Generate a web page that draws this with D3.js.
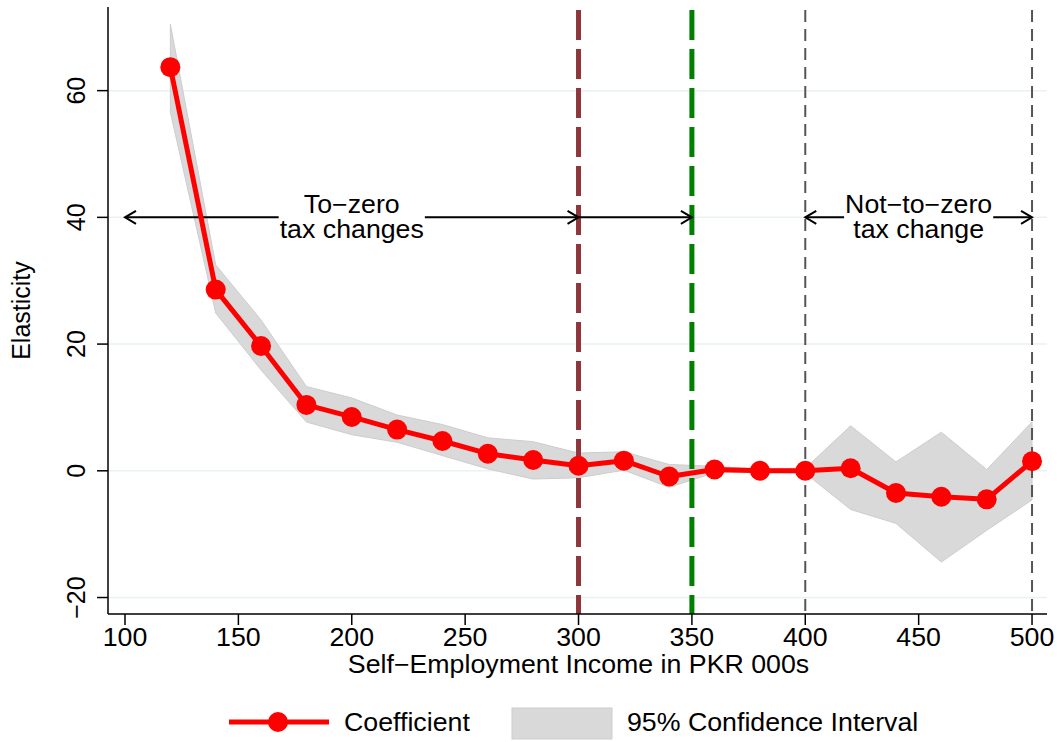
<!DOCTYPE html>
<html>
<head>
<meta charset="utf-8">
<script src="https://cdn.jsdelivr.net/npm/d3@7"></script>
<style>
  html, body { margin: 0; padding: 0; background: #ffffff; }
  svg text { font-family: "Liberation Sans", Arial, sans-serif; fill: #000; }
</style>
</head>
<body>
<svg id="chart" width="1057" height="742"></svg>
<script>
// Income bins (PKR 000s) and estimated elasticities with 95% confidence bounds
const income = [120, 140, 160, 180, 200, 220, 240, 260, 280, 300, 320, 340, 360, 380, 400, 420, 440, 460, 480, 500];
const coefficient = [63.7, 28.6, 19.7, 10.4, 8.5, 6.5, 4.7, 2.7, 1.7, 0.8, 1.6, -0.9, 0.2, 0.0, 0.0, 0.4, -3.5, -4.1, -4.5, 1.5];
const ciUpper = [70.5, 32.5, 23.8, 13.3, 11.5, 8.8, 7.3, 5.2, 4.6, 2.8, 3.0, 1.0, 0.7, 0.3, 0.4, 7.1, 1.4, 6.1, 0.2, 7.7];
const ciLower = [56.6, 24.9, 15.9, 7.7, 5.7, 4.5, 2.4, 0.3, -1.3, -1.1, 0.1, -2.6, -0.3, -0.2, -0.4, -6.1, -8.3, -14.4, -9.4, -4.6];

const xTicks = [100, 150, 200, 250, 300, 350, 400, 450, 500];
const yTicks = [-20, 0, 20, 40, 60];
const xTitle = "Self\u2212Employment Income in PKR 000s";
const yTitle = "Elasticity";
const legendLabels = ["Coefficient", "95% Confidence Interval"];

// Threshold markers and annotation spans
const thresholds = [
  { x: 300, color: "#8f363c", width: 5, dash: "30,9" },
  { x: 350, color: "#008000", width: 5, dash: "30,9" },
  { x: 400, color: "#555555", width: 2, dash: "12,7" },
  { x: 500, color: "#555555", width: 2, dash: "12,7" }
];
const spans = [
  { from: 100, to: 300, headStart: true, headEnd: true, label: ["To\u2212zero", "tax changes"], at: 200 },
  { from: 300, to: 350, headStart: false, headEnd: true, label: null },
  { from: 400, to: 500, headStart: true, headEnd: true, label: ["Not\u2212to\u2212zero", "tax change"], at: 450 }
];
const spanLevel = 40;

const svg = d3.select("#chart");
const plotL = 108, plotR = 1047, plotT = 7, plotB = 614;
const fs = 25;       // font size
const sx = 1.07;     // slight horizontal stretch of type

const x = d3.scaleLinear().domain([92.5, 506.6]).range([plotL, plotR]);
const y = d3.scaleLinear().domain([-22.6, 73.2]).range([plotB, plotT]);

function stretchedText(g, px, py, str, anchor) {
  return g.append("text")
    .attr("transform", `translate(${px},${py}) scale(${sx},1)`)
    .attr("text-anchor", anchor || "middle")
    .style("font-size", fs + "px")
    .text(str);
}

// Horizontal grid
svg.append("g").selectAll("line").data(yTicks).join("line")
  .attr("x1", plotL).attr("x2", plotR)
  .attr("y1", d => y(d)).attr("y2", d => y(d))
  .attr("stroke", "#eaf1f3").attr("stroke-width", 1.5);

// Confidence band
const band = income.map((v, i) => ({ x: v, lo: ciLower[i], hi: ciUpper[i] }));
svg.append("path").datum(band)
  .attr("d", d3.area().x(d => x(d.x)).y0(d => y(d.lo)).y1(d => y(d.hi)))
  .attr("fill", "#d9d9d9").attr("stroke", "#cdcdcd").attr("stroke-width", 1);

// Vertical dashed thresholds
svg.append("g").selectAll("line").data(thresholds).join("line")
  .attr("x1", d => x(d.x)).attr("x2", d => x(d.x))
  .attr("y1", plotT + 3).attr("y2", plotB)
  .attr("stroke", d => d.color).attr("stroke-width", d => d.width)
  .attr("stroke-dasharray", d => d.dash);

// Annotation arrows
const ann = svg.append("g");
const ya = y(spanLevel);
spans.forEach(s => {
  const x0 = x(s.from), x1 = x(s.to);
  ann.append("line").attr("x1", x0).attr("x2", x1).attr("y1", ya).attr("y2", ya)
    .attr("stroke", "#000").attr("stroke-width", 2);
  const head = (tx, dir) => ann.append("path")
    .attr("d", `M${tx - dir * 11},${ya - 6.5}L${tx},${ya}L${tx - dir * 11},${ya + 6.5}`)
    .attr("fill", "none").attr("stroke", "#000").attr("stroke-width", 2);
  if (s.headStart) head(x0, -1);
  if (s.headEnd) head(x1, 1);
});

// Coefficient line and markers
const pts = income.map((v, i) => ({ x: v, c: coefficient[i] }));
svg.append("path").datum(pts)
  .attr("d", d3.line().x(d => x(d.x)).y(d => y(d.c)))
  .attr("fill", "none").attr("stroke", "#ff0000").attr("stroke-width", 5)
  .attr("stroke-linejoin", "round");
svg.append("g").selectAll("circle").data(pts).join("circle")
  .attr("cx", d => x(d.x)).attr("cy", d => y(d.c)).attr("r", 10)
  .attr("fill", "#ff0000");

// Annotation labels on a white box that interrupts the arrow
spans.filter(s => s.label).forEach(s => {
  const g = svg.append("g");
  const cx = x(s.at);
  const bg = g.append("rect").attr("fill", "#fff");
  const t1 = stretchedText(g, cx, ya - 4, s.label[0]);
  const t2 = stretchedText(g, cx, ya + 21, s.label[1]);
  const w = Math.max(t1.node().getBBox().width, t2.node().getBBox().width) * sx;
  bg.attr("x", cx - w / 2 - 1).attr("y", ya - 24).attr("width", w + 2).attr("height", 50);
});

// Axes
const ax = svg.append("g");
ax.append("line").attr("x1", plotL).attr("x2", plotL).attr("y1", plotT).attr("y2", plotB)
  .attr("stroke", "#000").attr("stroke-width", 1.5);
ax.append("line").attr("x1", plotL).attr("x2", plotR).attr("y1", plotB).attr("y2", plotB)
  .attr("stroke", "#000").attr("stroke-width", 1.5);
ax.selectAll(".xt").data(xTicks).join("line").attr("class", "xt")
  .attr("x1", d => x(d)).attr("x2", d => x(d)).attr("y1", plotB).attr("y2", plotB + 11)
  .attr("stroke", "#000").attr("stroke-width", 1.5);
xTicks.forEach(d => stretchedText(ax, x(d), plotB + 32, String(d)));
ax.selectAll(".yt").data(yTicks).join("line").attr("class", "yt")
  .attr("x1", plotL - 11).attr("x2", plotL).attr("y1", d => y(d)).attr("y2", d => y(d))
  .attr("stroke", "#000").attr("stroke-width", 1.5);
ax.selectAll(".yl").data(yTicks).join("text").attr("class", "yl")
  .attr("transform", d => `translate(85,${y(d)}) rotate(-90)`)
  .attr("text-anchor", "middle").style("font-size", fs + "px")
  .text(d => d < 0 ? "\u2212" + Math.abs(d) : String(d));

// Axis titles
stretchedText(svg, x(300), 673, xTitle);
svg.append("text")
  .attr("transform", `translate(30,${(plotT + plotB) / 2}) rotate(-90)`)
  .attr("text-anchor", "middle").style("font-size", fs + "px")
  .text(yTitle);

// Legend
const lg = svg.append("g");
const ly = 722;
lg.append("line").attr("x1", 229).attr("x2", 329).attr("y1", ly).attr("y2", ly)
  .attr("stroke", "#ff0000").attr("stroke-width", 5);
lg.append("circle").attr("cx", 278).attr("cy", ly).attr("r", 10).attr("fill", "#ff0000");
stretchedText(lg, 344, ly + 9, legendLabels[0], "start");
lg.append("rect").attr("x", 512).attr("y", 708).attr("width", 100).attr("height", 31)
  .attr("fill", "#d9d9d9").attr("stroke", "#cdcdcd").attr("stroke-width", 1);
stretchedText(lg, 627, ly + 9, legendLabels[1], "start");
</script>
</body>
</html>
